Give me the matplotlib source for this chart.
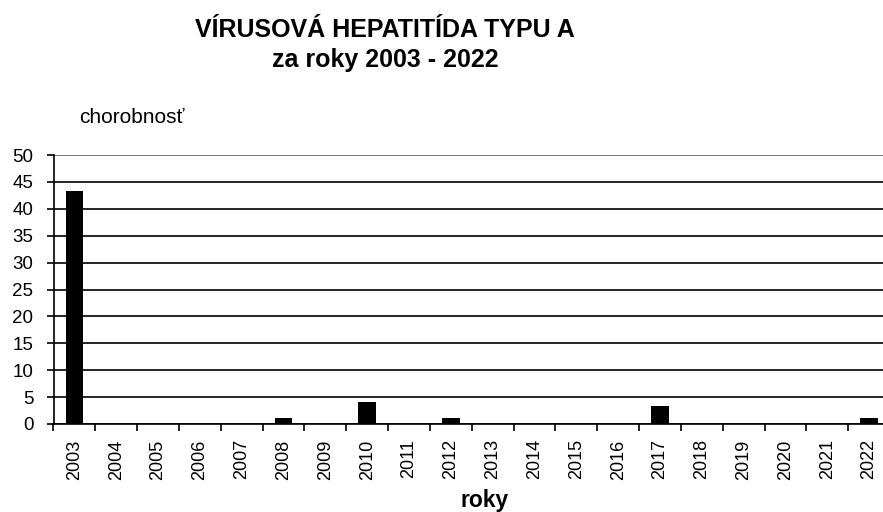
import numpy as np
import matplotlib.pyplot as plt

plt.rcParams['font.family'] = ['Liberation Sans', 'DejaVu Sans']

# data
years = [str(y) for y in range(2003, 2023)]
values = [43.4, 0, 0, 0, 0, 1.2, 0, 4.1, 0, 1.2, 0, 0, 0, 0, 3.4, 0, 0, 0, 0, 1.2]

W, H = 883, 512
fig = plt.figure(figsize=(W / 100, H / 100), dpi=100)
# plot area runs a little past the right edge of the picture, as in the original
ax = fig.add_axes([53.5 / W, 1 - 424 / H, (890 - 53.5) / W, 269 / H])

x = np.arange(len(years))
ax.bar(x, values, width=0.42, color='black', zorder=3)

ax.set_xlim(-0.5, len(years) - 0.5)
ax.set_ylim(0, 50)
ax.set_yticks(range(0, 51, 5))
ax.yaxis.grid(True, color='black', linewidth=1.2, zorder=0)
ax.set_axisbelow(True)

# category ticks between bars, labels centred on bars
ax.set_xticks(x)
ax.set_xticklabels(years, rotation=90, fontsize=13)
ax.set_xticks(np.arange(-0.5, len(years), 1), minor=True)
ax.tick_params(axis='x', which='major', length=0, pad=11)
ax.tick_params(axis='x', which='minor', length=5, width=1.2, direction='out')
ax.tick_params(axis='y', length=5, width=1.2, labelsize=13.5, pad=9.5)

for side in ['top', 'right']:
    ax.spines[side].set_visible(False)
ax.spines['left'].set_linewidth(1.2)
ax.spines['bottom'].set_linewidth(1.2)
ax.axhline(50, color='#888888', linewidth=1.2, zorder=1)

fig.text(385 / W, 1 - 37 / H, 'VÍRUSOVÁ HEPATITÍDA TYPU A', ha='center', va='baseline',
         fontsize=18, fontweight='bold')
fig.text(385 / W, 1 - 67 / H, 'za roky 2003 - 2022', ha='center', va='baseline',
         fontsize=18, fontweight='bold')
fig.text(79 / W, 1 - 117.5 / H, 'chorobnosť', ha='left', va='center', fontsize=15)
fig.text(485 / W, 1 - 501 / H, 'roky', ha='center', va='center', fontsize=16.5, fontweight='bold')

fig.savefig('out.png', dpi=100)
